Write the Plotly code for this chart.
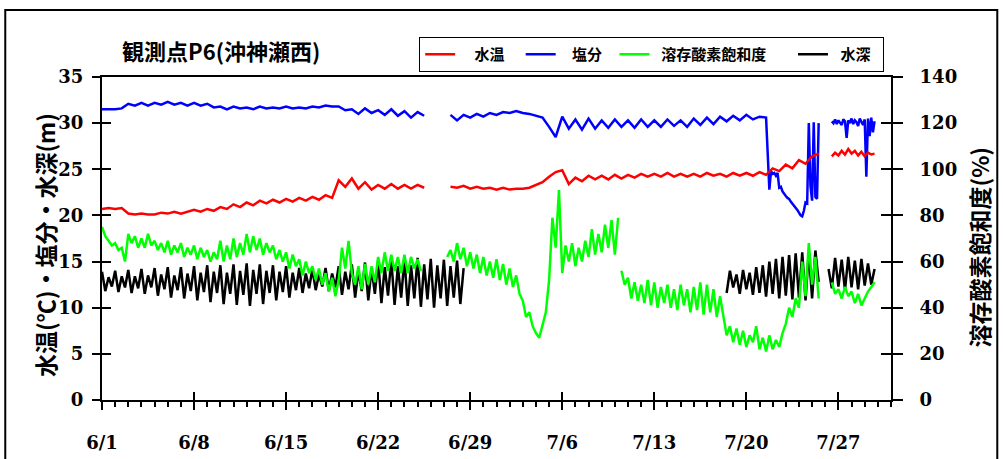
import pandas as pd
import plotly.graph_objects as go

# ---------------- data ----------------
# time axis labels
TICK_DATES = ["2010-06-01", "2010-06-08", "2010-06-15", "2010-06-22", "2010-06-29",
              "2010-07-06", "2010-07-13", "2010-07-20", "2010-07-27"]
TICK_TEXT = ["6/1", "6/8", "6/15", "6/22", "6/29", "7/6", "7/13", "7/20", "7/27"]
X_RANGE = ["2010-06-01", "2010-07-31"]

# series names
NAMES = ["水温", "塩分", "溶存酸素飽和度", "水深"]

# 水温 (deg C), 12-hourly / 6-hourly samples per record segment
temp_seg1_start = "2010-06-01 00:00"
temp_seg1 = [20.7, 20.8, 20.7, 20.8, 20.2, 20.1, 20.2, 20.1, 20.1, 20.3, 20.2, 20.4,
             20.2, 20.4, 20.6, 20.4, 20.7, 20.5, 20.9, 20.7, 21.2, 20.9, 21.4, 21.1,
             21.6, 21.3, 21.7, 21.4, 21.8, 21.5, 21.9, 21.6, 22.0, 21.7, 22.2, 21.9,
             23.8, 23.1, 24.0, 22.9, 23.6, 22.8, 23.3, 22.9, 23.4, 22.9, 23.3, 22.9,
             23.3, 23.0]
temp_seg2_start = "2010-06-27 12:00"
temp_seg2 = [23.1,
             23.0, 23.2, 22.9, 23.1, 22.9, 23.0, 22.8, 23.0, 22.8, 22.9, 22.9, 23.0,
             23.3, 23.6, 24.2, 24.7, 24.9, 23.4, 24.1, 23.7, 24.3, 23.9, 24.3, 23.9,
             24.4, 24.0, 24.4, 24.1, 24.5, 24.2, 24.5, 24.2, 24.6, 24.2, 24.5, 24.2,
             24.5, 24.2, 24.6, 24.3, 24.5, 24.2, 24.6, 24.3, 24.6, 24.3, 24.7, 24.4,
             25.1, 24.8, 25.5, 25.1, 26.0, 25.6, 26.4, 26.7]
temp_seg3_start = "2010-07-26 12:00"
temp_seg3 = [26.4, 26.8, 26.5, 27.0, 26.6, 27.2, 26.7, 27.0, 26.5, 26.9, 26.4, 26.8,
             26.6, 26.7]

# 塩分
sal_seg1_start = "2010-06-01 00:00"
sal_seg1 = [31.5, 31.5, 31.5, 31.6, 32.1, 31.9, 32.2, 31.9, 32.2, 32.0, 32.3, 32.0,
            32.2, 31.9, 32.2, 31.9, 32.1, 31.7, 31.8, 31.5, 31.8, 31.6, 31.7, 31.5,
            31.8, 31.6, 31.7, 31.6, 31.8, 31.6, 31.7, 31.6, 31.8, 31.7, 31.9, 31.8,
            31.8, 31.4, 31.5, 31.0, 31.6, 31.1, 31.4, 30.9, 31.5, 30.8, 31.3, 30.6,
            31.2, 30.8]
sal_seg2a_start = "2010-06-27 12:00"
sal_seg2a = [30.9,
             30.3, 30.9, 30.6, 31.0, 30.7, 31.1, 30.9, 31.2, 31.1, 31.3, 31.1, 31.0,
             30.8, 30.6, 29.6, 28.5, 30.7, 29.4, 30.4, 29.3, 30.5, 29.4, 30.3, 29.5,
             30.4, 29.6, 30.3, 29.5, 30.4, 29.6, 30.3, 29.6, 30.4, 29.7, 30.3, 29.6,
             30.5, 29.8, 30.6, 29.9, 30.7, 30.2, 30.8, 30.3, 30.9, 30.4, 30.7, 30.6]
sal_seg2b_start = "2010-07-21 18:00"
sal_seg2b = [22.8, 24.8, 24.5, 24.6, 24.3, 24.6, 23.0, 23.1, 22.6, 22.3, 22.1, 21.9,
             21.8, 21.5, 21.3, 21.1, 20.8, 20.6, 20.3, 20.0, 19.9, 20.5, 21.4, 21.3,
             30.0, 23.2, 21.6, 30.1, 22.0, 21.8, 30.0]
sal_seg3_start = "2010-07-26 12:00"
sal_seg3 = [30.2, 30.0, 30.4, 29.9, 30.3, 30.1, 29.8, 30.4, 30.2, 28.4, 30.3, 30.0,
            30.5, 29.9, 30.3, 30.1, 29.7, 30.5, 30.2, 29.8, 30.4, 24.2, 30.5, 28.6,
            30.6, 29.0, 30.2]

# 溶存酸素飽和度 (%), 6-hourly
do_seg1_start = "2010-06-01 00:00"
do_seg1 = [75, 71, 69, 67, 68, 65, 66, 60, 72, 68, 71, 66, 70, 66, 72, 67,
           69, 65, 68, 64, 69, 63, 67, 64, 68, 62, 66, 63, 67, 61, 66, 62,
           65, 60, 64, 61, 69, 60, 67, 61, 70, 62, 68, 63, 72, 64, 71, 65,
           70, 63, 68, 64, 67, 61, 65, 60, 64, 57, 63, 58, 61, 54, 60, 55,
           58, 52, 57, 50, 55, 47, 53, 45, 52, 66, 57, 69, 55, 50, 58, 48,
           59, 50, 58, 51, 62, 55, 64, 56, 63, 56, 62, 55, 63, 55, 62, 57,
           61, 56]
do_seg2_start = "2010-06-27 06:00"
do_seg2 = [62, 65, 60,
           68, 61, 66, 58, 64, 57, 63, 55, 62, 54, 60, 53, 61, 52, 59, 50,
           57, 49, 54, 46, 43, 36, 38, 32, 29, 27, 33, 38, 52, 79, 66, 91,
           55, 67, 60, 68, 58, 66, 60, 69, 62, 74, 63, 72, 64, 76, 66, 78,
           63, 79]
do_seg3_start = "2010-07-10 12:00"
do_seg3 = [56, 50,
           53, 44, 51, 43, 50, 42, 52, 41, 51, 40, 49, 42, 50, 40, 48, 39,
           50, 41, 48, 38, 49, 39, 51, 37, 50, 38, 48, 36, 45, 36,
           28, 32, 25, 31, 24, 30, 23, 28, 25, 32, 22, 27, 21, 28, 22, 26,
           23, 29, 33, 40, 36, 44, 40, 60, 45, 68, 50, 62, 44]
do_seg4_start = "2010-07-26 12:00"
do_seg4 = [51, 46, 48, 44, 49, 45, 47, 42, 46, 41, 44, 47, 49, 51]

# 水深 (m), 6-hourly
dep_seg1_start = "2010-06-01 00:00"
dep_seg1 = [13.9, 11.8, 13.3, 12.3, 14.0, 11.7, 13.4, 12.2,
            14.1, 11.6, 13.4, 12.1, 14.2, 11.5, 13.5, 12.2,
            14.3, 11.3, 13.6, 12.0, 14.4, 11.1, 13.5, 11.9,
            14.4, 11.0, 13.7, 11.8, 14.5, 10.8, 13.8, 11.7,
            14.6, 10.6, 13.9, 11.6, 14.6, 10.4, 13.8, 11.5,
            14.7, 10.3, 14.0, 11.4, 14.8, 10.2, 14.1, 11.5,
            14.7, 10.4, 14.0, 11.6, 14.6, 10.8, 13.9, 11.7,
            14.5, 11.1, 13.8, 11.9, 14.3, 11.6, 13.7, 12.1,
            14.2, 11.9, 13.6, 12.3, 14.3, 11.8, 13.7, 12.2,
            14.5, 11.4, 13.9, 12.0, 14.7, 11.1, 14.0, 11.8,
            14.9, 10.8, 14.3, 11.5, 15.1, 10.5, 14.4, 11.3,
            15.2, 10.3, 14.5, 11.1, 15.3, 10.2, 14.6, 11.0,
            15.4, 10.1, 14.7, 10.9, 15.3, 10.0, 14.6, 11.0,
            15.2, 10.2, 14.5, 11.1, 15.1, 10.4, 14.3]
dep_seg2_start = "2010-07-18 12:00"
dep_seg2 = [11.6, 14.0, 12.2, 13.6, 11.5, 14.1, 12.0, 13.8, 11.4, 14.4, 11.6, 14.6,
            11.2, 15.0, 11.5, 15.3, 11.0, 15.5, 11.3, 15.7, 10.9, 15.9, 11.1, 16.0,
            10.8, 16.1, 11.0, 16.2, 12.8]
dep_seg3_start = "2010-07-26 06:00"
dep_seg3 = [14.2, 12.1, 15.4, 12.3, 15.2, 11.9, 15.5, 12.2, 15.1, 12.0, 15.3, 12.4,
            14.8, 12.5, 14.2]


# ---------------- helpers ----------------
def seg(start, hours, vals):
    xs = list(pd.date_range(start, periods=len(vals), freq=f"{hours}h"))
    return xs, list(vals)


def join(*segs, gap=True):
    xs, ys = [], []
    for sx, sy in segs:
        if xs and gap:
            xs.append(None)
            ys.append(None)
        xs += sx
        ys += sy
    return xs, ys


sal2x, sal2y = join(seg(sal_seg2a_start, 12, sal_seg2a), seg(sal_seg2b_start, 3, sal_seg2b), gap=False)

temp_x, temp_y = join(seg(temp_seg1_start, 12, temp_seg1), seg(temp_seg2_start, 12, temp_seg2),
                      seg(temp_seg3_start, 6, temp_seg3))
sal_x, sal_y = join(seg(sal_seg1_start, 12, sal_seg1), (sal2x, sal2y), seg(sal_seg3_start, 3, sal_seg3))
do_x, do_y = join(seg(do_seg1_start, 6, do_seg1), seg(do_seg2_start, 6, do_seg2),
                  seg(do_seg3_start, 6, do_seg3), seg(do_seg4_start, 6, do_seg4))
dep_x, dep_y = join(seg(dep_seg1_start, 6, dep_seg1), seg(dep_seg2_start, 6, dep_seg2),
                    seg(dep_seg3_start, 6, dep_seg3))

JP = "Noto Sans CJK JP"
NUM = dict(family="DejaVu Serif", size=18, color="black", weight="bold")
LW = 2.5

# legend label spacing (whitespace only, to match the reference legend layout)
EN, QU, EM, TH = "\u2002", "\u2005", "\u2003", "\u2009"
LEG = {
    "水温": EN + QU + TH + NAMES[0] + EN + QU,
    "塩分": EN + QU + NAMES[1] + EN,
    "溶存酸素飽和度": QU + TH + NAMES[2] + EM + QU + TH,
    "水深": EN + NAMES[3] + EN,
}

fig = go.Figure()
fig.add_trace(go.Scatter(x=dep_x, y=dep_y, mode="lines", name=LEG[NAMES[3]],
                         line=dict(color="#000000", width=LW), legendrank=4, yaxis="y"))
fig.add_trace(go.Scatter(x=do_x, y=do_y, mode="lines", name=LEG[NAMES[2]],
                         line=dict(color="#00FF00", width=LW), legendrank=3, yaxis="y2"))
fig.add_trace(go.Scatter(x=sal_x, y=sal_y, mode="lines", name=LEG[NAMES[1]],
                         line=dict(color="#0000FF", width=LW), legendrank=2, yaxis="y"))
fig.add_trace(go.Scatter(x=temp_x, y=temp_y, mode="lines", name=LEG[NAMES[0]],
                         line=dict(color="#FF0000", width=LW), legendrank=1, yaxis="y"))
# empty helper traces so the tick-only overlay axes are drawn
fig.add_trace(go.Scatter(x=[], y=[], xaxis="x2", yaxis="y3", showlegend=False, hoverinfo="skip"))
fig.add_trace(go.Scatter(x=[], y=[], xaxis="x", yaxis="y4", showlegend=False, hoverinfo="skip"))

xcommon = dict(type="date", range=X_RANGE, tickvals=TICK_DATES, ticktext=TICK_TEXT,
               showgrid=False, zeroline=False)
fig.update_layout(
    width=1003, height=459,
    margin=dict(l=102, r=112, t=77, b=59, autoexpand=False),
    paper_bgcolor="white", plot_bgcolor="white",
    xaxis=dict(**xcommon, showline=True, linecolor="black", linewidth=2, mirror=True,
               ticks="outside", ticklen=8, tickwidth=2, tickcolor="black",
               tickfont=NUM, ticklabelstandoff=17,
               minor=dict(dtick=86400000, ticks="outside", ticklen=5, tickwidth=1.5,
                          tickcolor="black", showgrid=False)),
    xaxis2=dict(**xcommon, overlaying="x", anchor="y", side="bottom", showline=False,
                ticks="inside", ticklen=8, tickwidth=2, tickcolor="black",
                showticklabels=False),
    yaxis=dict(range=[0, 35], dtick=5, showgrid=False, zeroline=False, showline=True,
               linecolor="black", linewidth=2, ticks="outside", ticklen=8, tickwidth=2,
               tickcolor="black", tickfont=NUM, ticklabelstandoff=5),
    yaxis2=dict(range=[0, 140], dtick=20, overlaying="y", side="right", anchor="x",
                showgrid=False, zeroline=False, showline=True, linecolor="black",
                linewidth=2, ticks="outside", ticklen=10, tickwidth=2, tickcolor="black",
                tickfont=NUM, ticklabelstandoff=13),
    yaxis3=dict(range=[0, 35], dtick=5, overlaying="y", side="left", anchor="x",
                showgrid=False, zeroline=False, showline=False, ticks="inside",
                ticklen=9, tickwidth=2, tickcolor="black", showticklabels=False),
    yaxis4=dict(range=[0, 140], dtick=20, overlaying="y", side="right", anchor="x",
                showgrid=False, zeroline=False, showline=False, ticks="inside",
                ticklen=10, tickwidth=2, tickcolor="black", showticklabels=False),
    legend=dict(orientation="h", x=0.402, y=1.124, xanchor="left", yanchor="top",
                bordercolor="black", borderwidth=1, bgcolor="white",
                font=dict(family=JP, size=15, color="black", weight="bold"),
                itemwidth=30, traceorder="normal"),
    showlegend=True,
    annotations=[
        dict(text="観測点P6(沖神瀬西)", xref="paper", yref="paper", x=0.0232, y=1.0836,
             xanchor="left", yanchor="middle", showarrow=False,
             font=dict(family=JP, size=22, color="black", weight="bold")),
        dict(text="水温(℃)・塩分・水深(m)", xref="paper", yref="paper", x=-0.0731, y=0.481,
             xanchor="center", yanchor="middle", textangle=-90, showarrow=False,
             font=dict(family=JP, size=23, color="black", weight="bold")),
        dict(text="溶存酸素飽和度(%)", xref="paper", yref="paper", x=1.1115, y=0.475,
             xanchor="center", yanchor="middle", textangle=-90, showarrow=False,
             font=dict(family=JP, size=23, color="black", weight="bold")),
    ],
    shapes=[dict(type="rect", xref="paper", yref="paper", x0=-0.1226, x1=1.1347,
                 y0=-0.5, y1=1.2074, line=dict(color="black", width=2), layer="below")],
)

fig.write_html("out.html", config={"displayModeBar": False},
               post_script="document.body.style.margin='0';")
